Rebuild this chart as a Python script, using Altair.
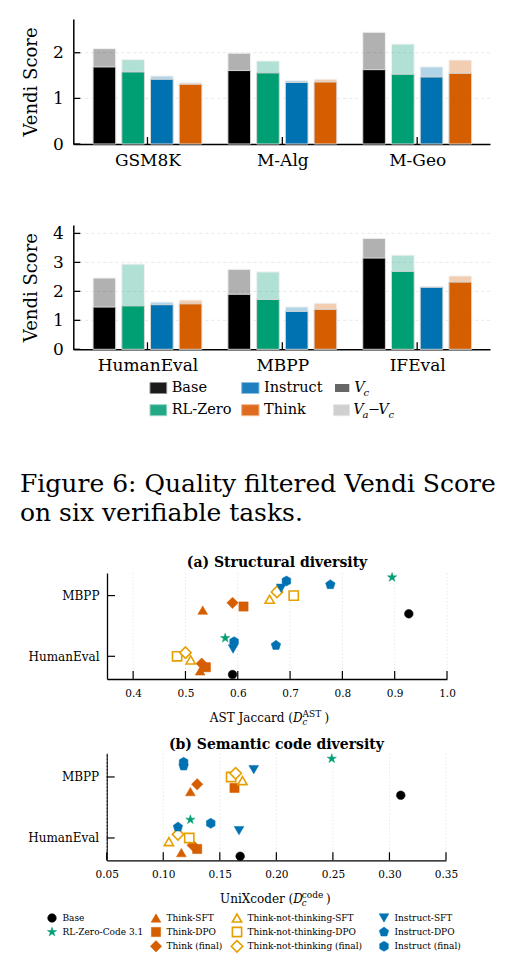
import json
import altair as alt
import pandas as pd

SERIF = "DejaVu Serif"

# ---------------- Vendi score bars (quality filtered) ----------------
bar_models = ["Base", "RL-Zero", "Instruct", "Think"]
bar_colors = ["#000000", "#009E73", "#0072B2", "#D55E00"]

tasks_math = ["GSM8K", "M-Alg", "M-Geo"]
vc_math = [[1.69, 1.58, 1.42, 1.31], [1.61, 1.56, 1.35, 1.36], [1.63, 1.53, 1.47, 1.55]]
va_math = [[2.09, 1.85, 1.49, 1.34], [1.99, 1.82, 1.39, 1.42], [2.45, 2.19, 1.69, 1.84]]

tasks_code = ["HumanEval", "MBPP", "IFEval"]
vc_code = [[1.46, 1.50, 1.54, 1.57], [1.90, 1.72, 1.31, 1.38], [3.15, 2.69, 2.14, 2.32]]
va_code = [[2.46, 2.94, 1.63, 1.70], [2.76, 2.67, 1.46, 1.59], [3.83, 3.25, 2.17, 2.53]]

# ---------------- code diversity scatter ----------------
sc_tasks = ["HumanEval", "MBPP"]
sc_models = ["Base", "RL-Zero-Code 3.1", "Think-SFT", "Think-DPO", "Think (final)",
             "Think-not-thinking-SFT", "Think-not-thinking-DPO", "Think-not-thinking (final)",
             "Instruct-SFT", "Instruct-DPO", "Instruct (final)"]
ast_humaneval = [0.590, 0.576, 0.528, 0.539, 0.531, 0.510, 0.484, 0.500, 0.591, 0.673, 0.593]
ast_mbpp = [0.927, 0.895, 0.533, 0.611, 0.590, 0.661, 0.707, 0.675, 0.683, 0.777, 0.693]
unix_humaneval = [0.168, 0.124, 0.116, 0.130, 0.126, 0.105, 0.123, 0.113, 0.167, 0.113, 0.142]
unix_mbpp = [0.310, 0.249, 0.124, 0.163, 0.130, 0.170, 0.160, 0.164, 0.180, 0.118, 0.118]

# vertical dodge order inside each task row, bottom to top
sc_stack = ["Base", "Think-SFT", "Think-DPO", "Think (final)", "Think-not-thinking-SFT",
            "Think-not-thinking-DPO", "Think-not-thinking (final)", "Instruct-SFT",
            "Instruct-DPO", "Instruct (final)", "RL-Zero-Code 3.1"]
DODGE = 0.06

# marker styles
STAR = ("M0,-1L0.2245,-0.309L0.951,-0.309L0.363,0.118L0.588,0.809L0,0.382"
        "L-0.588,0.809L-0.363,0.118L-0.951,-0.309L-0.2245,-0.309Z")
PENTAGON = "M0,-1L0.951,-0.309L0.588,0.809L-0.588,0.809L-0.951,-0.309Z"
HEXAGON = "M0,-1L0.866,-0.5L0.866,0.5L0,1L-0.866,0.5L-0.866,-0.5Z"
sc_shapes = ["circle", STAR, "triangle-up", "square", "diamond", "triangle-up", "square",
             "diamond", "triangle-down", PENTAGON, HEXAGON]
sc_colors = ["#000000", "#009E73", "#D55E00", "#D55E00", "#D55E00", "#E69F00", "#E69F00",
             "#E69F00", "#0072B2", "#0072B2", "#0072B2"]
sc_hollow = [False, False, False, False, False, True, True, True, False, False, False]
sc_sizes = [75, 95, 95, 85, 130, 85, 85, 130, 95, 100, 100]

FULL_W = 511
ONE = pd.DataFrame({"k": [0]})
TICK = 7


def piece(text, x, y, size, style="normal", align="left", weight="normal"):
    return alt.Chart(ONE).mark_text(
        text=text, font=SERIF, fontSize=size, fontStyle=style, fontWeight=weight,
        align=align, baseline="middle", color="black").encode(x=alt.value(x), y=alt.value(y))


# ---------------- bar panels ----------------
BAR_STEP = 0.213
BAR_HALF = 0.084
BAR_LEFT, BAR_RIGHT = 73.3, 490


def bar_panel(tasks, vc, va, ymax, yticks, height, top):
    rows = []
    for ti, task in enumerate(tasks):
        for mi, model in enumerate(bar_models):
            center = ti + (mi - 1.5) * BAR_STEP
            rows.append({"task": task, "model": model, "lo": center - BAR_HALF,
                         "hi": center + BAR_HALF, "zero": 0.0,
                         "vc": vc[ti][mi], "va": va[ti][mi]})
    df = pd.DataFrame(rows)
    xs = alt.Scale(domain=[-0.55, 2.54], range=[BAR_LEFT, BAR_RIGHT], nice=False, zero=False)
    ys = alt.Scale(domain=[0, ymax], range=[height, top], nice=False, zero=False)
    color = alt.Color("model:N", scale=alt.Scale(domain=bar_models, range=bar_colors), legend=None)
    xaxis = alt.Axis(values=[0, 1, 2], labelExpr=f"{json.dumps(tasks)}[datum.value]",
                     title=None, ticks=False, tickSize=0, grid=False, labelFont=SERIF,
                     labelFontSize=17, labelColor="black", labelPadding=8, labelFlush=False,
                     domainColor="black", domainWidth=1.5)
    yaxis = alt.Axis(values=yticks, format="d", title="Vendi Score", titleFont=SERIF,
                     titleFontSize=18, titleFontWeight="normal", titleColor="black",
                     titlePadding=12, labelFont=SERIF, labelFontSize=17, labelColor="black",
                     labelPadding=10, ticks=False, tickSize=0, grid=False,
                     domainColor="black", domainWidth=1.5, offset=-BAR_LEFT)
    grid = alt.Chart(pd.DataFrame({"t": yticks[1:]})).mark_rule(
        color="#e2e2e2", strokeWidth=0.8, strokeDash=[3, 3]).encode(
        y=alt.Y("t:Q", scale=ys, axis=yaxis), x=alt.value(BAR_LEFT), x2=alt.value(BAR_RIGHT))
    base = alt.Chart(df)
    solid = base.mark_bar(stroke="#d6d6d6", strokeWidth=1).encode(
        x=alt.X("lo:Q", scale=xs, axis=xaxis), x2="hi:Q",
        y=alt.Y("vc:Q", scale=ys, axis=yaxis), y2="zero:Q", color=color)
    extra = base.mark_bar(stroke="#d6d6d6", strokeWidth=1, opacity=0.3).encode(
        x=alt.X("lo:Q", scale=xs, axis=xaxis), x2="hi:Q",
        y=alt.Y("va:Q", scale=ys, axis=yaxis), y2="vc:Q", color=color)
    yt = alt.Chart(pd.DataFrame({"t": yticks})).mark_rule(color="black", strokeWidth=1.3).encode(
        y=alt.Y("t:Q", scale=ys, axis=yaxis), x=alt.value(BAR_LEFT), x2=alt.value(BAR_LEFT + TICK))
    xt = alt.Chart(pd.DataFrame({"t": [0, 1, 2]})).mark_rule(color="black", strokeWidth=1.3).encode(
        x=alt.X("t:Q", scale=xs, axis=xaxis), y=alt.value(height), y2=alt.value(height - TICK))
    return alt.layer(grid, solid, extra, yt, xt).properties(width=FULL_W, height=height)


bar_math = bar_panel(tasks_math, vc_math, va_math, 2.74, [0, 1, 2], 144, 19)
bar_code = bar_panel(tasks_code, vc_code, va_code, 4.29, [0, 1, 2, 3, 4], 205.3, 81)


# ---------------- bar legend + caption ----------------
def legend_caption_block():
    rect_rows = [
        {"x": 150, "x2": 166.7, "y": 32.5, "y2": 43.5, "fill": "#1c1c1c", "stroke": "#8a8a8a", "sw": 1},
        {"x": 150, "x2": 166.7, "y": 54.7, "y2": 65.7, "fill": "#22a884", "stroke": "#8fd3bf", "sw": 1},
        {"x": 241.7, "x2": 259, "y": 32.5, "y2": 43.5, "fill": "#1f80c0", "stroke": "#8cbfe0", "sw": 1},
        {"x": 241.7, "x2": 259, "y": 54.7, "y2": 65.7, "fill": "#de6c1e", "stroke": "#f0b48c", "sw": 1},
        {"x": 335, "x2": 349.3, "y": 34, "y2": 42, "fill": "#666666", "stroke": "#666666", "sw": 0},
        {"x": 333.5, "x2": 349.5, "y": 54.7, "y2": 65.7, "fill": "#d0d0d0", "stroke": "#e4e4e4", "sw": 1},
    ]
    rects = alt.Chart(pd.DataFrame(rect_rows)).mark_rect().encode(
        x=alt.X("x:Q", scale=None, axis=None), x2="x2:Q",
        y=alt.Y("y:Q", scale=None, axis=None), y2="y2:Q",
        fill=alt.Fill("fill:N", scale=None), stroke=alt.Stroke("stroke:N", scale=None),
        strokeWidth=alt.StrokeWidth("sw:Q", scale=None))
    labels = pd.DataFrame([
        {"text": bar_models[0], "x": 171.7, "y": 38},
        {"text": bar_models[1], "x": 171.7, "y": 60.2},
        {"text": bar_models[2], "x": 264, "y": 38},
        {"text": bar_models[3], "x": 264, "y": 60.2},
        {"text": "\u2212", "x": 367.7, "y": 60.2},
    ])
    lab = alt.Chart(labels).mark_text(align="left", baseline="middle", font=SERIF,
                                      fontSize=14.5, color="black").encode(
        x=alt.X("x:Q", scale=None, axis=None), y=alt.Y("y:Q", scale=None, axis=None), text="text:N")
    big_v = pd.DataFrame([
        {"text": "V", "x": 354.3, "y": 38},
        {"text": "V", "x": 353.3, "y": 60.2},
        {"text": "V", "x": 378.3, "y": 60.2},
    ])
    bv = alt.Chart(big_v).mark_text(align="left", baseline="middle", font=SERIF, fontSize=14.5,
                                    fontStyle="italic", color="black").encode(
        x=alt.X("x:Q", scale=None, axis=None), y=alt.Y("y:Q", scale=None, axis=None), text="text:N")
    subs = pd.DataFrame([
        {"text": "c", "x": 363.5, "y": 42.5},
        {"text": "a", "x": 362.5, "y": 64.7},
        {"text": "c", "x": 388.5, "y": 64.7},
    ])
    sb = alt.Chart(subs).mark_text(align="left", baseline="middle", font=SERIF, fontSize=10,
                                   fontStyle="italic", color="black").encode(
        x=alt.X("x:Q", scale=None, axis=None), y=alt.Y("y:Q", scale=None, axis=None), text="text:N")
    caption = pd.DataFrame([
        {"text": "Figure 6: Quality filtered Vendi Score", "x": 20, "y": 141.7},
        {"text": "on six verifiable tasks.", "x": 20, "y": 170.7},
    ])
    cap = alt.Chart(caption).mark_text(align="left", baseline="alphabetic", font=SERIF,
                                       fontSize=25, color="black").encode(
        x=alt.X("x:Q", scale=None, axis=None), y=alt.Y("y:Q", scale=None, axis=None), text="text:N")
    return alt.layer(rects, lab, bv, sb, cap).properties(width=FULL_W, height=222.4)


# ---------------- scatter panels ----------------
def scatter_rows(he, mb):
    rows = []
    for ti, vals in enumerate([he, mb]):
        for mi, m in enumerate(sc_models):
            rows.append({
                "model": m, "task": sc_tasks[ti], "value": vals[mi],
                "pos": ti + (sc_stack.index(m) - 5) * DODGE,
                "shape": sc_shapes[mi],
                "fill": "white" if sc_hollow[mi] else sc_colors[mi],
                "stroke": sc_colors[mi],
                "sw": 1.6 if sc_hollow[mi] else 0.5,
                "size": sc_sizes[mi],
            })
    return pd.DataFrame(rows)


def scatter_panel(title, he, mb, xdom, xticks, xfmt, left, right, height, top, ydom,
                  xlabel, sup, title_y, xlab_pos):
    df = scatter_rows(he, mb)
    xs = alt.Scale(domain=xdom, range=[left, right], nice=False, zero=False)
    ys = alt.Scale(domain=ydom, range=[height, top], nice=False, zero=False)
    xaxis = alt.Axis(values=xticks, format=xfmt, title=None, ticks=False, tickSize=0,
                     labelFont=SERIF, labelFontSize=10.5, labelColor="black", labelPadding=9,
                     labelFlush=False, labelOverlap=False, grid=False,
                     domainColor="black", domainWidth=1.3)
    yaxis = alt.Axis(values=[0, 1], labelExpr=f"{json.dumps(sc_tasks)}[datum.value]",
                     title=None, ticks=False, tickSize=0, labelFont=SERIF, labelFontSize=12,
                     labelColor="black", labelPadding=8, grid=False, domainColor="black",
                     domainWidth=1.3, offset=-left)
    grid = alt.Chart(pd.DataFrame({"t": xticks})).mark_rule(
        color="#e2e2e2", strokeWidth=0.8, strokeDash=[1.5, 2]).encode(
        x=alt.X("t:Q", scale=xs, axis=xaxis), y=alt.value(top), y2=alt.value(height))
    pts = alt.Chart(df).mark_point(filled=True, opacity=1).encode(
        x=alt.X("value:Q", scale=xs, axis=xaxis),
        y=alt.Y("pos:Q", scale=ys, axis=yaxis),
        shape=alt.Shape("shape:N", scale=None),
        fill=alt.Fill("fill:N", scale=None),
        stroke=alt.Stroke("stroke:N", scale=None),
        strokeWidth=alt.StrokeWidth("sw:Q", scale=None),
        size=alt.Size("size:Q", scale=None),
    )
    yt = alt.Chart(pd.DataFrame({"t": [0, 1]})).mark_rule(color="black", strokeWidth=1.2).encode(
        y=alt.Y("t:Q", scale=ys, axis=yaxis), x=alt.value(left), x2=alt.value(left + TICK + 1))
    xt = alt.Chart(pd.DataFrame({"t": xticks})).mark_rule(color="black", strokeWidth=1.2).encode(
        x=alt.X("t:Q", scale=xs, axis=xaxis), y=alt.value(height), y2=alt.value(height - TICK - 1))
    d_x, sup_x, close_x, ty = xlab_pos
    pieces = [
        piece(title, (left + right) / 2, title_y, 14, align="center", weight="bold"),
        piece(xlabel + " (", d_x, ty, 12, align="right"),
        piece("D", d_x, ty, 12, style="italic"),
        piece(sup, sup_x, ty - 4.5, 9),
        piece("c", sup_x, ty + 4, 8.5, style="italic"),
        piece(")", close_x, ty, 12),
    ]
    return alt.layer(grid, pts, yt, xt, *pieces).properties(width=FULL_W, height=height)


scatter_a = scatter_panel("(a) Structural diversity", ast_humaneval, ast_mbpp, [0.35, 1.0],
                          [0.4, 0.5, 0.6, 0.7, 0.8, 0.9, 1.0], ".1f", 107, 447, 106, 0,
                          [-0.374, 1.372], "AST Jaccard", "AST", -9.7,
                          (293, 302.5, 324.5, 145))
scatter_b = scatter_panel("(b) Semantic code diversity", unix_humaneval, unix_mbpp, [0.05, 0.35],
                          [0.05, 0.10, 0.15, 0.20, 0.25, 0.30, 0.35], ".2f", 106.7, 446, 181.3, 74.3,
                          [-0.366, 1.388], "UniXcoder", "code", 65.6,
                          (293.3, 301.7, 326, 220))

# ---------------- marker legend ----------------
legend_slots = [(0, 0), (0, 1), (1, 0), (1, 1), (1, 2), (2, 0), (2, 1), (2, 2), (3, 0), (3, 1), (3, 2)]
legend_col_x = [52, 156, 237, 384]
legend_row_y = [57, 71, 85.3]


def marker_legend():
    rows = []
    for mi, m in enumerate(sc_models):
        c, r = legend_slots[mi]
        rows.append({"model": m, "mx": legend_col_x[c], "tx": legend_col_x[c] + 10.5,
                     "my": legend_row_y[r], "shape": sc_shapes[mi],
                     "fill": "white" if sc_hollow[mi] else sc_colors[mi],
                     "stroke": sc_colors[mi], "sw": 1.6 if sc_hollow[mi] else 0.5,
                     "size": sc_sizes[mi]})
    df = pd.DataFrame(rows)
    marks = alt.Chart(df).mark_point(filled=True, opacity=1).encode(
        x=alt.X("mx:Q", scale=None, axis=None), y=alt.Y("my:Q", scale=None, axis=None),
        shape=alt.Shape("shape:N", scale=None), fill=alt.Fill("fill:N", scale=None),
        stroke=alt.Stroke("stroke:N", scale=None), strokeWidth=alt.StrokeWidth("sw:Q", scale=None),
        size=alt.Size("size:Q", scale=None))
    texts = alt.Chart(df).mark_text(align="left", baseline="middle", font=SERIF, fontSize=9,
                                    color="black").encode(
        x=alt.X("tx:Q", scale=None, axis=None), y=alt.Y("my:Q", scale=None, axis=None),
        text="model:N")
    return alt.layer(marks, texts).properties(width=FULL_W, height=115)


chart = alt.vconcat(
    bar_math,
    bar_code,
    legend_caption_block(),
    scatter_a,
    scatter_b,
    marker_legend(),
    spacing=0, bounds="flush",
).properties(padding=0).configure(font=SERIF).configure_view(stroke=None)

chart.save("out.html", embed_options={"renderer": "svg", "actions": False})
